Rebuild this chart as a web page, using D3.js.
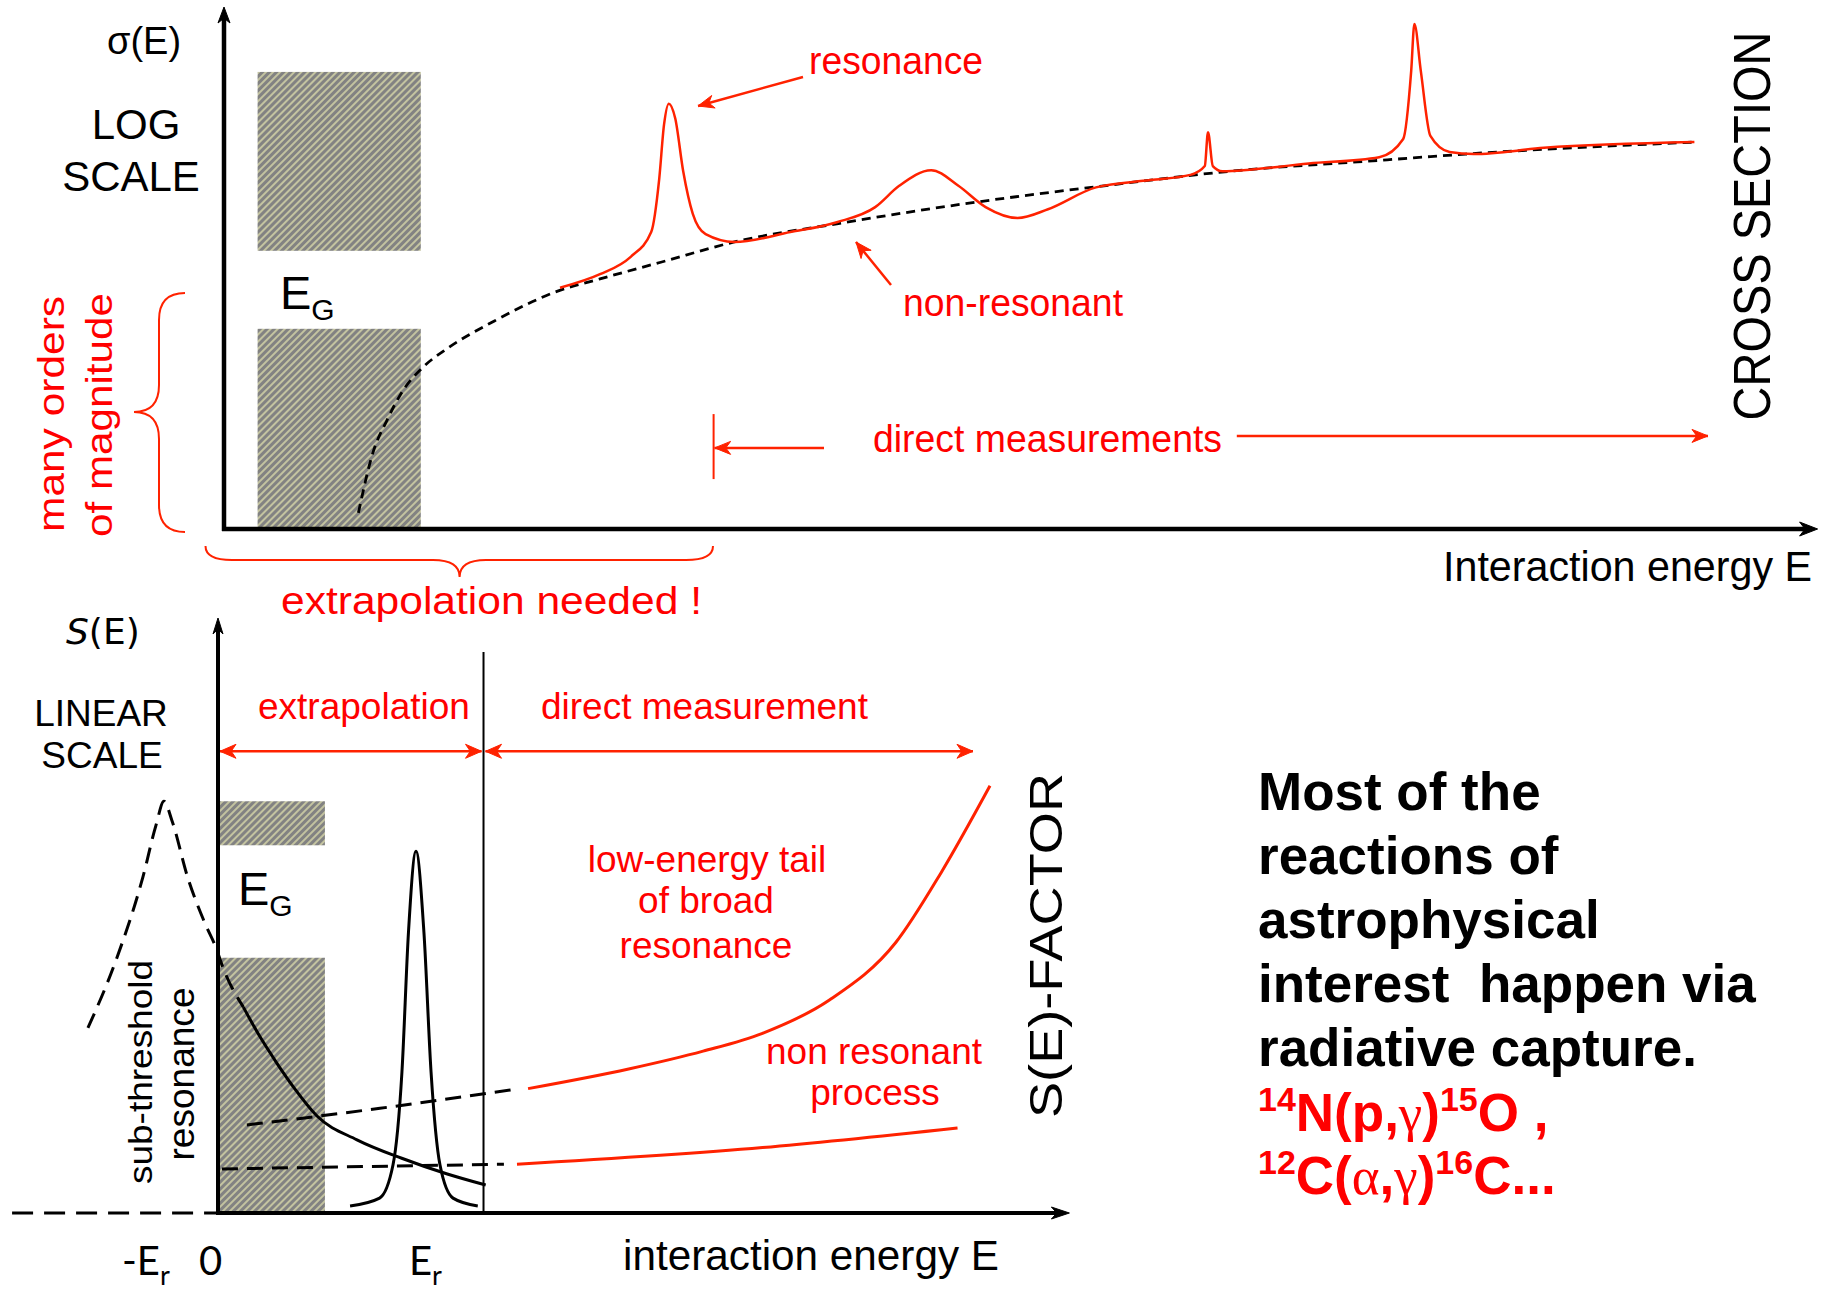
<!DOCTYPE html>
<html>
<head>
<meta charset="utf-8">
<script src="https://cdn.jsdelivr.net/npm/d3@7"></script>
<style>
  body { margin: 0; background: #fff; }
  svg { display: block; }
</style>
</head>
<body>
<svg id="fig" width="1834" height="1290"></svg>
<script>
// ---------- upper panel: cross section on a log scale (arbitrary units) ----------
// [energy, log sigma]
const nonResonantSigma = [
  [0.84,0.31],[0.93,1.46],[1.02,2.10],[1.12,2.67],[1.24,3.10],[1.40,3.48],[1.69,4.00],
  [2.09,4.58],[2.35,4.81],[2.73,5.13],[3.19,5.52],[3.83,5.87],[4.71,6.29],[5.50,6.60],
  [6.29,6.88],[7.27,7.10],[7.76,7.21],[9.19,7.44]
];
const measuredSigma = [
  [2.10,4.64],[2.35,4.90],[2.54,5.23],[2.67,5.71],[2.72,6.73],[2.75,7.77],[2.78,8.18],
  [2.82,7.90],[2.87,6.88],[2.93,6.06],[3.01,5.67],[3.19,5.52],[3.54,5.71],[3.83,5.90],
  [4.07,6.19],[4.22,6.60],[4.42,6.90],[4.59,6.60],[4.76,6.19],[4.96,5.98],[5.15,6.15],
  [5.45,6.57],[5.79,6.71],[6.04,6.81],[6.13,6.98],[6.15,7.63],[6.18,6.98],[6.24,6.88],
  [6.78,7.03],[7.22,7.15],[7.37,7.50],[7.42,8.81],[7.44,9.71],[7.48,8.81],[7.54,7.56],
  [7.66,7.25],[7.81,7.21],[8.25,7.33],[9.19,7.44]
];
// Gamow window bands: [E from, E to, log sigma from, log sigma to]
const gamowTop = [[0.21,1.23,5.35,8.79],[0.21,1.23,0,3.85]];

// ---------- lower panel: S-factor on a linear scale (energy in units of Er) ----------
const subThresholdPeak = [
  [-0.657,3.11],[-0.515,4.25],[-0.379,5.65],[-0.313,6.52],[-0.273,6.92],[-0.232,6.59],
  [-0.154,5.65],[-0.066,4.87],[-0.008,4.44],[0.02,4.17],[0.128,3.46]
];
const subThresholdTail = [
  [0.128,3.46],[0.207,2.99],[0.297,2.52],[0.387,2.09],[0.5,1.63],[0.702,1.23],
  [0.928,0.92],[1.154,0.66],[1.352,0.47]
];
const narrowResonance = [
  [0.667,0.118],[0.816,0.25],[0.884,0.81],[0.929,2.37],[0.962,4.72],[1.0,6.08],
  [1.040,4.72],[1.076,2.37],[1.121,0.81],[1.187,0.25],[1.312,0.118]
];
const broadTailExtrap = [[0.146,1.48],[0.818,1.76],[1.503,2.08]];
const broadTailData = [[1.566,2.09],[2.074,2.42],[2.45,2.72],[2.75,3.02],[3.088,3.58],[3.424,4.55],[3.652,5.72],[3.899,7.18]];
const nonResExtrap = [[0.02,0.74],[0.73,0.78],[1.444,0.82]];
const nonResData = [[1.51,0.82],[2.75,1.10],[3.735,1.43]];
const gamowLow = [[0,0.54,6.18,6.92],[0,0.54,0,4.29]];

// summary text
const summaryLines = ["Most of the", "reactions of", "astrophysical", "interest  happen via", "radiative capture."];

// ---------- setup ----------
const svg = d3.select("#fig");
const RED = "#ff0000", LINE_RED = "#ff2200";
const SANS = "'Liberation Sans', Arial, sans-serif";
const LATO = "Lato, 'Open Sans', sans-serif";
const WIDE = "'DejaVu Sans', sans-serif";

const xTop = d3.scaleLinear().domain([0, 10]).range([224, 1824]);
const yTop = d3.scaleLinear().domain([0, 10]).range([529, 9]);
const xLow = d3.scaleLinear().domain([0, 1]).range([218, 416]);
const yLow = d3.scaleLinear().domain([0, 10]).range([1213, 618]);

const defs = svg.append("defs");
const pat = defs.append("pattern").attr("id", "hatch")
  .attr("patternUnits", "userSpaceOnUse").attr("width", 5).attr("height", 5)
  .attr("patternTransform", "rotate(45)");
pat.append("rect").attr("width", 5).attr("height", 5).attr("fill", "#c3c3a0");
pat.append("rect").attr("width", 2.5).attr("height", 5).attr("fill", "#828282")
  .attr("shape-rendering", "crispEdges");

function curveLine(xs, ys) {
  return d3.line().x(d => xs(d[0])).y(d => ys(d[1])).curve(d3.curveMonotoneX);
}

// arrow head drawn at (x,y) pointing along the direction (dx,dy)
function head(g, x, y, dx, dy, len, half, color) {
  const n = Math.hypot(dx, dy), ux = dx / n, uy = dy / n, px = -uy, py = ux;
  const bx = x - ux * len, by = y - uy * len;
  const nx = x - ux * len * 0.7, ny = y - uy * len * 0.7;
  g.append("path")
    .attr("d", `M${x},${y}L${bx + px * half},${by + py * half}L${nx},${ny}L${bx - px * half},${by - py * half}Z`)
    .attr("fill", color).attr("stroke", color).attr("stroke-width", 1);
}

function arrow(g, x1, y1, x2, y2, color, w, len, half, both) {
  g.append("line").attr("x1", x1).attr("y1", y1).attr("x2", x2).attr("y2", y2)
    .attr("stroke", color).attr("stroke-width", w);
  head(g, x2, y2, x2 - x1, y2 - y1, len, half, color);
  if (both) head(g, x1, y1, x1 - x2, y1 - y2, len, half, color);
}

function text(g, x, y, str, size, opts = {}) {
  const t = g.append("text").attr("x", x).attr("y", y).text(str)
    .attr("font-family", opts.family || SANS).attr("font-size", size)
    .attr("fill", opts.fill || "#000").attr("text-anchor", opts.anchor || "start");
  if (opts.len) t.attr("textLength", opts.len).attr("lengthAdjust", "spacingAndGlyphs");
  return t;
}

// vertical text reading bottom to top, centred on (x, y), baseline at x;
// "tall" stretches the glyphs across the line
function vtext(g, x, y, str, size, opts = {}) {
  const tall = opts.tall || 1;
  const holder = g.append("g").attr("transform", `translate(${x},${y}) rotate(-90) scale(1,${tall})`);
  return text(holder, 0, 0, str, size, Object.assign({ anchor: "middle" }, opts));
}

// ================= upper panel =================
const upper = svg.append("g");

upper.selectAll("rect.gw").data(gamowTop).join("rect").attr("class", "gw")
  .attr("x", d => xTop(d[0])).attr("width", d => xTop(d[1]) - xTop(d[0]))
  .attr("y", d => yTop(d[3])).attr("height", d => yTop(d[2]) - yTop(d[3]))
  .attr("fill", "url(#hatch)");

upper.append("path").datum(nonResonantSigma).attr("d", curveLine(xTop, yTop))
  .attr("fill", "none").attr("stroke", "#000").attr("stroke-width", 2.8).attr("stroke-dasharray", "9,6");
upper.append("path").datum(measuredSigma).attr("d", curveLine(xTop, yTop))
  .attr("fill", "none").attr("stroke", LINE_RED).attr("stroke-width", 2.5);

// axes
upper.append("line").attr("x1", xTop(0)).attr("x2", xTop(0)).attr("y1", yTop(0) + 2).attr("y2", yTop(10) + 6)
  .attr("stroke", "#000").attr("stroke-width", 4.5);
head(upper, xTop(0), yTop(10) - 2, 0, -1, 16, 6, "#000");
upper.append("line").attr("x1", xTop(0) - 2).attr("x2", xTop(9.96) - 6).attr("y1", yTop(0)).attr("y2", yTop(0))
  .attr("stroke", "#000").attr("stroke-width", 4.5);
head(upper, xTop(9.96), yTop(0), 1, 0, 18, 7, "#000");

// labels
text(upper, 107, 54, "σ(E)", 38);
text(upper, 136, 139, "LOG", 42, { anchor: "middle" });
text(upper, 131, 191, "SCALE", 42, { anchor: "middle" });
const egTop = upper.append("text").attr("x", 280).attr("y", 309).attr("font-family", SANS);
egTop.append("tspan").attr("font-size", 47).text("E");
egTop.append("tspan").attr("font-size", 30).attr("dy", 11).text("G");

vtext(upper, 64, 414, "many orders", 36, { fill: RED, len: 236 });
vtext(upper, 112, 415, "of magnitude", 36, { fill: RED, len: 244 });
upper.append("path")
  .attr("d", "M185,293 Q159,293 159,320 L159,385 Q159,412 134,412 Q159,412 159,439 L159,505 Q159,532 185,532")
  .attr("fill", "none").attr("stroke", LINE_RED).attr("stroke-width", 2);

text(upper, 809, 74, "resonance", 38, { fill: RED, len: 174 });
arrow(upper, 803, 77, 698, 106, LINE_RED, 2.5, 16, 6.5);
text(upper, 903, 316, "non-resonant", 38, { fill: RED, len: 220 });
arrow(upper, 891, 285, 856, 242, LINE_RED, 2.5, 16, 6.5);

text(upper, 873, 452, "direct measurements", 38, { fill: RED, len: 349 });
upper.append("line").attr("x1", xTop(3.06)).attr("x2", xTop(3.06)).attr("y1", yTop(2.21)).attr("y2", yTop(0.96))
  .attr("stroke", LINE_RED).attr("stroke-width", 2);
arrow(upper, xTop(3.75), yTop(1.56), xTop(3.06) + 1, yTop(1.56), LINE_RED, 2.5, 16, 6.5);
arrow(upper, xTop(6.33), yTop(1.79), xTop(9.275), yTop(1.79), LINE_RED, 2.5, 16, 6.5);

vtext(upper, 1770, 226, "CROSS SECTION", 47, { tall: 1.12 });
text(upper, 1443, 581, "Interaction energy E", 42, { len: 369 });

upper.append("path")
  .attr("d", "M205.5,546 Q205.5,560 232,560 L433,560 Q459.6,560 459.6,577 Q459.6,560 486,560 L686,560 Q713,560 713,546")
  .attr("fill", "none").attr("stroke", LINE_RED).attr("stroke-width", 2);
text(upper, 281, 613.5, "extrapolation needed !", 38, { fill: RED, len: 421 });

// ================= lower panel =================
const lower = svg.append("g");

lower.selectAll("rect.gw").data(gamowLow).join("rect").attr("class", "gw")
  .attr("x", d => xLow(d[0])).attr("width", d => xLow(d[1]) - xLow(d[0]))
  .attr("y", d => yLow(d[3])).attr("height", d => yLow(d[2]) - yLow(d[3]))
  .attr("fill", "url(#hatch)");

function drawSeries(data, color, w, dash) {
  const p = lower.append("path").datum(data).attr("d", curveLine(xLow, yLow))
    .attr("fill", "none").attr("stroke", color).attr("stroke-width", w);
  if (dash) p.attr("stroke-dasharray", dash);
}
drawSeries(subThresholdPeak, "#000", 3, "16,9");
drawSeries(subThresholdTail, "#000", 3);
drawSeries(narrowResonance, "#000", 3);
drawSeries(broadTailExtrap, "#000", 3, "16,9");
drawSeries(broadTailData, LINE_RED, 3);
drawSeries(nonResExtrap, "#000", 3, "16,9");
drawSeries(nonResData, LINE_RED, 3);

// axes
lower.append("line").attr("x1", xLow(-1.04)).attr("x2", xLow(0)).attr("y1", yLow(0)).attr("y2", yLow(0))
  .attr("stroke", "#000").attr("stroke-width", 3).attr("stroke-dasharray", "21,11");
lower.append("line").attr("x1", xLow(0)).attr("x2", xLow(0)).attr("y1", yLow(0) + 2).attr("y2", yLow(10) + 6)
  .attr("stroke", "#000").attr("stroke-width", 4);
head(lower, xLow(0), yLow(10), 0, -1, 16, 5, "#000");
lower.append("line").attr("x1", xLow(0)).attr("x2", xLow(4.3) - 6).attr("y1", yLow(0)).attr("y2", yLow(0))
  .attr("stroke", "#000").attr("stroke-width", 4);
head(lower, xLow(4.3), yLow(0), 1, 0, 18, 6, "#000");
lower.append("line").attr("x1", xLow(1.341)).attr("x2", xLow(1.341)).attr("y1", yLow(9.43)).attr("y2", yLow(0))
  .attr("stroke", "#000").attr("stroke-width", 2);

// range arrows
arrow(lower, xLow(0) + 2, yLow(7.76), xLow(1.341) - 2, yLow(7.76), LINE_RED, 2.5, 16, 7, true);
arrow(lower, xLow(1.341) + 2, yLow(7.76), xLow(3.813), yLow(7.76), LINE_RED, 2.5, 16, 7, true);

// labels
const sE = lower.append("text").attr("x", 66).attr("y", 644).attr("font-family", WIDE).attr("font-size", 36);
sE.append("tspan").attr("font-style", "italic").text("S");
sE.append("tspan").text("(E)");
text(lower, 101, 726, "LINEAR", 37, { anchor: "middle" });
text(lower, 102, 768, "SCALE", 37, { anchor: "middle" });
text(lower, 258, 719, "extrapolation", 37, { fill: RED });
text(lower, 541, 719, "direct measurement", 37, { fill: RED });

const egLow = lower.append("text").attr("x", 238).attr("y", 904.5).attr("font-family", SANS);
egLow.append("tspan").attr("font-size", 47).text("E");
egLow.append("tspan").attr("font-size", 30).attr("dy", 11).text("G");

text(lower, 707, 872, "low-energy tail", 37, { fill: RED, anchor: "middle" });
text(lower, 706, 913, "of broad", 37, { fill: RED, anchor: "middle" });
text(lower, 706, 958, "resonance", 37, { fill: RED, anchor: "middle" });
text(lower, 874, 1064, "non resonant", 37, { fill: RED, anchor: "middle" });
text(lower, 875, 1105, "process", 37, { fill: RED, anchor: "middle" });

vtext(lower, 1062, 945.5, "S(E)-FACTOR", 46, { len: 345 });
vtext(lower, 152, 1072, "sub-threshold", 33, { len: 224 });
vtext(lower, 194, 1074, "resonance", 37, { len: 173 });

text(lower, 623, 1270, "interaction energy E", 42, { len: 376 });

function subLabel(x, main, sub) {
  const t = lower.append("text").attr("x", x).attr("y", 1275).attr("font-family", LATO).attr("font-size", 40);
  t.append("tspan").text(main);
  if (sub) t.append("tspan").attr("font-size", 27).attr("dy", 10).text(sub);
}
subLabel(122, "-E", "r");
subLabel(199, "0");
subLabel(409, "E", "r");

// ================= summary text =================
const note = svg.append("g").attr("font-family", SANS).attr("font-weight", "bold").attr("font-size", 53);
note.selectAll("text.l").data(summaryLines).join("text").attr("class", "l")
  .attr("x", 1258).attr("y", (d, i) => 810 + i * 64)
  .style("white-space", "pre").text(d => d);

function formula(y, parts) {
  const t = note.append("text").attr("x", 1258).attr("y", y).attr("fill", RED);
  let raised = false;
  parts.forEach(([s, kind]) => {
    const sp = t.append("tspan").text(s);
    if (kind === "sup") { sp.attr("font-size", 34).attr("dy", -20); raised = true; }
    else {
      if (raised) { sp.attr("dy", 20); raised = false; }
      if (kind === "greek") sp.attr("font-family", "'Liberation Serif', serif").attr("font-weight", "normal");
    }
  });
}
formula(1131, [["14", "sup"], ["N(p,"], ["γ", "greek"], [")"], ["15", "sup"], ["O ,"]]);
formula(1194, [["12", "sup"], ["C("], ["α", "greek"], [","], ["γ", "greek"], [")"], ["16", "sup"], ["C..."]]);
</script>
</body>
</html>
